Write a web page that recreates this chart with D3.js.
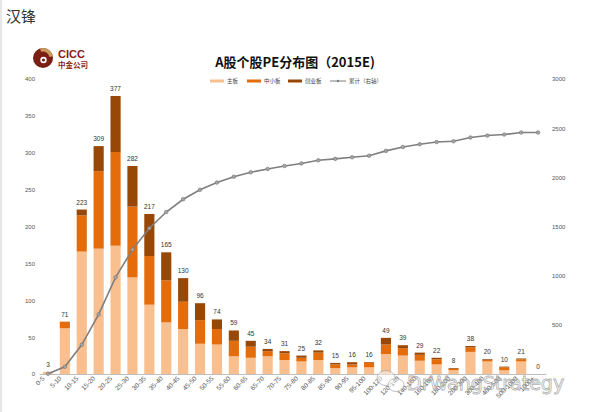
<!DOCTYPE html>
<html lang="en">
  <head>
    <meta charset="UTF-8" />
    <title>A股个股PE分布图（2015E）</title>
    <script src="https://d3js.org/d3.v7.min.js"></script>
    <style>
      body {
        margin: 0;
        background: #fff;
        font-family: 'Noto Sans CJK SC', 'Liberation Sans', Arial, sans-serif;
      }
      svg text {
        fill: #444;
      }
    </style>
  </head>
  <body>
    <div id="chart"></div>
    <script>
      // PE buckets
      const categories = [
        '0-5', '5-10', '10-15', '15-20', '20-25', '25-30', '30-35', '35-40',
        '40-45', '45-50', '50-55', '55-60', '60-65', '65-70', '70-75', '75-80',
        '80-85', '85-90', '90-95', '95-100', '100-120', '120-140', '140-160',
        '160-180', '180-200', '200-300', '300-400', '400-500', '500-1000', '1000+',
      ];
      // stacked counts per board
      const mainBoard = [3, 62, 166, 170, 174, 131, 94, 70, 61, 41, 40, 24, 22, 24, 19, 17, 19, 8, 9, 9, 27, 25, 18, 13, 5, 30, 17, 5, 17, 0];
      const smeBoard = [0, 9, 49, 105, 127, 96, 66, 57, 37, 32, 21, 21, 15, 7, 9, 5, 10, 5, 4, 6, 13, 10, 8, 7, 2, 6, 2, 4, 3, 0];
      const chinextBoard = [0, 0, 8, 34, 76, 55, 57, 38, 32, 23, 13, 14, 8, 3, 3, 3, 3, 2, 3, 1, 9, 4, 3, 2, 1, 2, 1, 1, 1, 0];
      // labels over bars
      const totals = [3, 71, 223, 309, 377, 282, 217, 165, 130, 96, 74, 59, 45, 34, 31, 25, 32, 15, 16, 16, 49, 39, 29, 22, 8, 38, 20, 10, 21, 0];
      // cumulative count (right axis)
      const cumulative = [3, 74, 297, 606, 983, 1265, 1482, 1647, 1777, 1873, 1947, 2006, 2051, 2085, 2116, 2141, 2173, 2188, 2204, 2220, 2269, 2308, 2337, 2359, 2367, 2405, 2425, 2435, 2456, 2456];
      const leftTicks = [0, 50, 100, 150, 200, 250, 300, 350, 400];
      const rightTicks = [500, 1000, 1500, 2000, 2500, 3000];
      const seriesNames = ['主板', '中小板', '创业板'];
      const lineName = '累计（右轴）';

      const colors = ['#f9bf8f', '#e46c0a', '#974706'];

      const width = 600,
        height = 412;

      const svg = d3
        .select('#chart')
        .append('svg')
        .attr('width', width)
        .attr('height', height);

      // left page strip + header
      svg.append('rect').attr('x', 0).attr('y', 0).attr('width', 2).attr('height', height).attr('fill', '#e6e6e6');
      svg
        .append('text')
        .attr('x', 6)
        .attr('y', 22)
        .style('font-size', '15px')
        .style('fill', '#333')
        .text('汉锋');

      // CICC logo
      const logo = svg.append('g').attr('transform', 'translate(43,58)');
      logo.append('circle').attr('r', 10).attr('fill', '#7b1e14');
      logo
        .append('path')
        .attr('d', d3.arc().innerRadius(6.5).outerRadius(10).startAngle(-0.3).endAngle(1.4)())
        .attr('fill', '#c99a5b');
      logo.append('circle').attr('r', 3.2).attr('cx', 0.5).attr('cy', 2).attr('fill', '#fff');
      logo.append('circle').attr('r', 1.6).attr('cx', 0.5).attr('cy', 2).attr('fill', '#7b1e14');
      logo
        .append('text')
        .attr('x', 15)
        .attr('y', 0)
        .style('font-size', '11px')
        .style('font-weight', 'bold')
        .style('fill', '#8a1c12')
        .style('font-family', 'Liberation Sans, Arial, sans-serif')
        .text('CICC');
      logo
        .append('text')
        .attr('x', 15)
        .attr('y', 10)
        .style('font-size', '7.5px')
        .style('font-weight', 'bold')
        .style('fill', '#8a1c12')
        .text('中金公司');

      // title
      svg
        .append('text')
        .attr('x', 295)
        .attr('y', 67)
        .attr('text-anchor', 'middle')
        .style('font-size', '13px')
        .style('font-weight', 'bold')
        .style('fill', '#111')
        .text('A股个股PE分布图（2015E)');

      // scales
      const x = d3
        .scaleBand()
        .domain(categories)
        .range([39.5, 546.5])
        .paddingInner(0.4)
        .paddingOuter(0.2);
      const y = d3.scaleLinear().domain([0, 400]).range([374, 79]);
      const y2 = d3.scaleLinear().domain([0, 3000]).range([374, 79]);

      // stack data
      const rows = categories.map((c, i) => ({
        cat: c,
        s0: mainBoard[i],
        s1: smeBoard[i],
        s2: chinextBoard[i],
      }));
      const stacked = d3.stack().keys(['s0', 's1', 's2'])(rows);

      svg
        .append('g')
        .selectAll('g')
        .data(stacked)
        .join('g')
        .attr('fill', (d, i) => colors[i])
        .selectAll('rect')
        .data((d) => d)
        .join('rect')
        .attr('x', (d) => x(d.data.cat))
        .attr('y', (d) => y(d[1]))
        .attr('width', x.bandwidth())
        .attr('height', (d) => y(d[0]) - y(d[1]));

      // baseline
      svg
        .append('line')
        .attr('x1', 39.5)
        .attr('x2', 546.5)
        .attr('y1', 374.5)
        .attr('y2', 374.5)
        .attr('stroke', '#bfbfbf');

      // total labels
      svg
        .append('g')
        .selectAll('text')
        .data(totals)
        .join('text')
        .attr('x', (d, i) => x(categories[i]) + x.bandwidth() / 2)
        .attr('y', (d) => y(d) - 5)
        .attr('text-anchor', 'middle')
        .style('font-size', '6.5px')
        .style('font-family', 'Liberation Sans, Arial, sans-serif')
        .style('fill', '#333')
        .text((d) => d);

      // left axis
      const axisL = d3.axisLeft(y).tickValues(leftTicks).tickSize(0).tickPadding(0);
      const gL = svg.append('g').attr('transform', 'translate(35,0)').call(axisL);
      gL.select('.domain').remove();
      gL.selectAll('text')
        .style('font-size', '6px')
        .style('font-family', 'Liberation Sans, Arial, sans-serif')
        .style('fill', '#555');

      // right axis
      const axisR = d3
        .axisRight(y2)
        .tickValues(rightTicks)
        .tickFormat(d3.format('d'))
        .tickSize(0)
        .tickPadding(0);
      const gR = svg.append('g').attr('transform', 'translate(552,0)').call(axisR);
      gR.select('.domain').remove();
      gR.selectAll('text')
        .style('font-size', '6px')
        .style('font-family', 'Liberation Sans, Arial, sans-serif')
        .style('fill', '#555');

      // x labels
      svg
        .append('g')
        .selectAll('text')
        .data(categories)
        .join('text')
        .attr('transform', (d) => `translate(${x(d) + x.bandwidth() / 2 - 3},379) rotate(-45)`)
        .attr('text-anchor', 'end')
        .style('font-size', '6.5px')
        .style('font-family', 'Liberation Sans, Arial, sans-serif')
        .style('fill', '#555')
        .text((d) => d);

      // cumulative line
      const line = d3
        .line()
        .x((d, i) => x(categories[i]) + x.bandwidth() / 2)
        .y((d) => y2(d));
      svg
        .append('path')
        .datum(cumulative)
        .attr('d', line)
        .attr('fill', 'none')
        .attr('stroke', '#7f7f7f')
        .attr('stroke-width', 1.6);
      svg
        .append('g')
        .selectAll('circle')
        .data(cumulative)
        .join('circle')
        .attr('cx', (d, i) => x(categories[i]) + x.bandwidth() / 2)
        .attr('cy', (d) => y2(d))
        .attr('r', 1.8)
        .attr('fill', '#a6a6a6')
        .attr('stroke', '#707070')
        .attr('stroke-width', 0.6);

      // legend
      const legend = svg.append('g').attr('transform', 'translate(210,81)');
      const legendX = [0, 37, 78];
      seriesNames.forEach((name, i) => {
        legend
          .append('rect')
          .attr('x', legendX[i])
          .attr('y', -1.5)
          .attr('width', 14)
          .attr('height', 3)
          .attr('fill', colors[i]);
        legend
          .append('text')
          .attr('x', legendX[i] + 17)
          .attr('y', 2)
          .style('font-size', '5.5px')
          .text(name);
      });
      legend
        .append('line')
        .attr('x1', 120)
        .attr('x2', 136)
        .attr('y1', 0)
        .attr('y2', 0)
        .attr('stroke', '#7f7f7f')
        .attr('stroke-width', 1);
      legend.append('circle').attr('cx', 128).attr('cy', 0).attr('r', 1.2).attr('fill', '#7f7f7f');
      legend
        .append('text')
        .attr('x', 139)
        .attr('y', 2)
        .style('font-size', '5.5px')
        .text(lineName);

      // watermark
      const wm = svg.append('g').attr('opacity', 0.75);
      wm.append('ellipse').attr('cx', 386).attr('cy', 378).attr('rx', 9).attr('ry', 7.5)
        .attr('fill', 'rgba(255,255,255,0.6)').attr('stroke', '#aaa').attr('stroke-width', 1);
      wm.append('ellipse').attr('cx', 396).attr('cy', 385).attr('rx', 8).attr('ry', 6.5)
        .attr('fill', 'rgba(255,255,255,0.6)').attr('stroke', '#aaa').attr('stroke-width', 1);
      wm.append('text')
        .attr('x', 407)
        .attr('y', 390)
        .style('font-size', '19px')
        .style('font-family', 'DejaVu Sans, sans-serif')
        .style('fill', 'rgba(255,255,255,0.3)')
        .style('stroke', '#999')
        .style('stroke-width', 0.8)
        .text('DrWangStrategy');
    </script>
  </body>
</html>
